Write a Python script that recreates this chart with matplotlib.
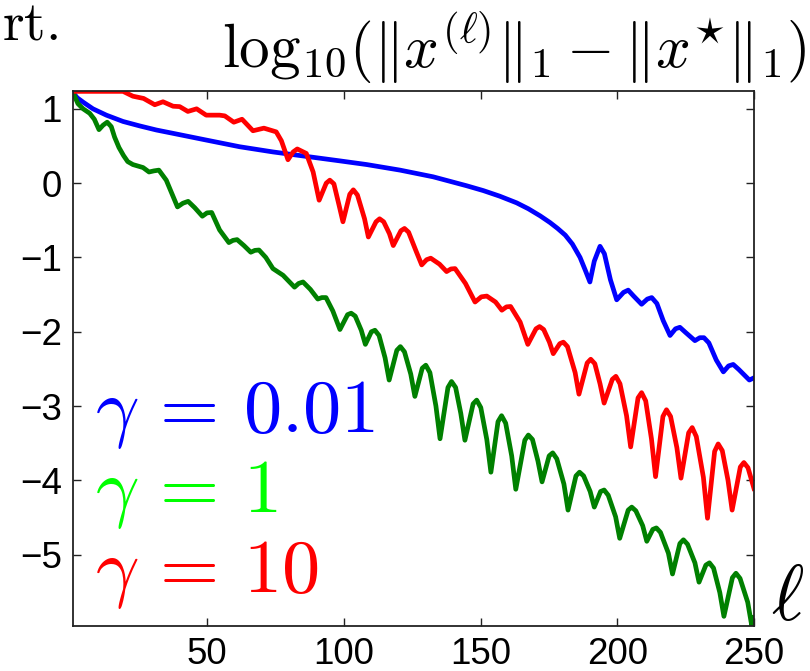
import matplotlib
matplotlib.use("Agg")
import matplotlib.pyplot as plt

plt.rcParams['mathtext.fontset'] = 'cm'
plt.rcParams['font.family'] = ['Liberation Sans', 'DejaVu Sans']

# ---- data ----
blue_x = [1, 2.5, 4.7, 8.3, 13.2, 19.3, 25.4, 31.5, 37.6, 49.7, 61.9, 74.1, 86.3, 98.5, 108.4,
          120.6, 132.7, 144.9, 151, 157, 163.2, 167.5, 171.8, 175.4, 178.2, 181.0, 183.6,
          186.4, 188.4, 190.0, 191.6, 193.7, 195.3, 197.5, 199.8, 202.3, 204.0, 206, 208.9, 211,
          212.6, 214.5, 216.8, 219.3, 221.3, 222.9, 225, 228.4, 230.2, 231.7, 233.5,
          236.2, 238.8, 240.7, 242.4, 244.5, 248.3, 250]
blue_y = [1.22, 1.15, 1.09, 1.0, 0.915, 0.83, 0.77, 0.715, 0.67, 0.58, 0.49, 0.42, 0.36, 0.30, 0.25,
          0.175, 0.085, -0.035, -0.10, -0.175, -0.265, -0.345, -0.44, -0.53, -0.61, -0.70, -0.82,
          -1.0, -1.18, -1.33, -1.05, -0.85, -0.95, -1.30, -1.57, -1.47, -1.44, -1.52, -1.63, -1.56,
          -1.54, -1.62, -1.85, -2.05, -1.96, -1.94, -2.01, -2.12, -2.08, -2.08, -2.15,
          -2.38, -2.54, -2.46, -2.44, -2.51, -2.65, -2.62]

green_x = [1, 2.8, 4.7, 7.1, 8.8, 10.5, 12.0, 13.5, 15.0, 16.2, 17.8, 19.5, 21.0, 22.9, 26.6, 28.8,
           30.6, 32.4, 35.1, 37.6, 39.2, 41.2, 43.1, 45.5, 48.3, 50.0, 51.7, 54.6, 58.0, 59.5,
           61.0, 63.5, 66.0, 67.5, 69.0, 71.5, 74.1, 77.8, 82.0, 83.5, 85.1, 87.8,
           90.5, 92.0, 93.5, 96.0, 98.6,
           101.4, 102.7, 104.2, 106.4, 107.9,
           110.1, 111.4, 112.9, 115.1, 116.6,
           119.4, 120.7, 122.2, 124.5, 126.0,
           128.7, 130.0, 131.5, 133.7, 135.2,
           138.1, 139.4, 140.9, 142.8, 144.3,
           147.3, 148.6, 150.1, 152.3, 153.8,
           156.4, 157.7, 159.2, 161.4, 162.9,
           166.2, 167.5, 169.0, 171.0, 172.5,
           175.1, 176.4, 177.9, 180.5, 182.0,
           184.9, 186.2, 187.7, 190.1, 191.6,
           193.9, 195.2, 196.7, 199.4, 200.9,
           204.0, 205.3, 206.8, 209.3, 210.8,
           213.0, 214.3, 215.8, 218.7, 220.2,
           222.9, 224.2, 225.7, 228.4, 229.9,
           232.4, 233.7, 235.2, 237.5, 239.0,
           242.1, 243.4, 244.9, 247.7, 249.2, 250]
green_y = [1.22, 1.07, 1.00, 0.94, 0.86, 0.72, 0.78, 0.82, 0.76, 0.62, 0.48, 0.37, 0.29, 0.25, 0.21, 0.15,
           0.165, 0.175, 0.04, -0.18, -0.32, -0.27, -0.245, -0.33, -0.445, -0.40, -0.395, -0.63, -0.80, -0.77,
           -0.76, -0.84, -0.93, -0.905, -0.90, -1.00, -1.15, -1.24, -1.40, -1.35, -1.33, -1.43,
           -1.56, -1.54, -1.54, -1.72, -1.97,
           -1.77, -1.75, -1.79, -1.98, -2.17,
           -2.00, -1.98, -2.05, -2.35, -2.65,
           -2.25, -2.20, -2.27, -2.57, -2.87,
           -2.49, -2.45, -2.55, -3.00, -3.44,
           -2.75, -2.67, -2.75, -3.10, -3.46,
           -2.97, -2.92, -3.02, -3.45, -3.89,
           -3.21, -3.13, -3.23, -3.67, -4.12,
           -3.46, -3.39, -3.45, -3.74, -4.02,
           -3.67, -3.63, -3.71, -4.05, -4.40,
           -3.94, -3.89, -3.94, -4.15, -4.36,
           -4.15, -4.13, -4.20, -4.49, -4.78,
           -4.40, -4.36, -4.41, -4.61, -4.82,
           -4.66, -4.64, -4.70, -4.98, -5.26,
           -4.85, -4.80, -4.86, -5.11, -5.37,
           -5.14, -5.11, -5.18, -5.51, -5.83,
           -5.31, -5.25, -5.32, -5.64, -5.96, -5.85]

red_x = [1, 19.3, 22.9, 26.8, 30.9, 33.9, 37.6, 40, 43, 46.2, 49.7, 54.6, 56.5, 59.8, 62.8,
         66.8, 70.8, 75.3, 77.2, 79.6, 81.5, 83.0, 86.3, 88.8, 91.0,
         93.6, 94.9, 96.4, 98.3, 99.7,
         102.2, 103.5, 105.0, 107.6, 109.0,
         111.8, 113.1, 114.6, 116.7, 118.1,
         120.9, 122.2, 123.7, 126.5, 128.5,
         130.3, 131.8, 135.0, 137.6, 139.2, 140.7, 144.5, 148.0, 150.3, 152.3, 155.5, 157.8,
         159.5, 161.0, 164.5, 167.3,
         170.3, 171.6, 173.1, 175.2, 176.6,
         179.0, 180.3, 181.8, 184.6, 186.0,
         189.0, 190.3, 191.8, 193.7, 195.2,
         198.2, 199.5, 201.0, 203.4, 204.9,
         207.6, 208.9, 210.4, 212.5, 214.0,
         216.7, 218.0, 219.5, 221.8, 223.3,
         226.1, 227.4, 228.9, 231.5, 233.0,
         235.6, 236.9, 238.4, 240.5, 242.0,
         245.0, 246.3, 247.8, 250]
red_y = [1.235, 1.235, 1.17, 1.14, 1.055, 1.095, 1.035, 1.03, 0.965, 1.0, 0.915, 0.915, 0.905, 0.82, 0.86,
         0.705, 0.74, 0.69, 0.57, 0.315, 0.42, 0.46, 0.40, 0.15, -0.23,
         0.0, 0.04, -0.01, -0.30, -0.52,
         -0.15, -0.09, -0.16, -0.48, -0.725,
         -0.52, -0.48, -0.52, -0.68, -0.84,
         -0.64, -0.61, -0.66, -0.92, -1.10,
         -1.03, -1.01, -1.09, -1.19, -1.155, -1.15, -1.35, -1.60, -1.53, -1.52, -1.60, -1.71,
         -1.665, -1.66, -1.87, -2.17,
         -1.96, -1.93, -1.97, -2.14, -2.295,
         -2.16, -2.14, -2.20, -2.55, -2.84,
         -2.42, -2.37, -2.43, -2.70, -2.96,
         -2.64, -2.60, -2.70, -3.13, -3.55,
         -2.89, -2.82, -2.93, -3.44, -3.95,
         -3.14, -3.05, -3.14, -3.56, -3.97,
         -3.36, -3.29, -3.41, -3.96, -4.51,
         -3.61, -3.51, -3.60, -4.00, -4.40,
         -3.82, -3.76, -3.83, -4.11]

x_ticks = [50, 100, 150, 200, 250]
y_ticks = [1, 0, -1, -2, -3, -4, -5]
legend_labels = [r'$\gamma\,=\,0.01$', r'$\gamma\,=\,1$', r'$\gamma\,=\,10$']
legend_colors = ['#0000ff', '#00ff00', '#ff0000']

W, H = 810, 671
fig = plt.figure(figsize=(W / 100, H / 100), dpi=100)
ax = fig.add_axes([73 / W, 1 - 626 / H, (754 - 73) / W, (626 - 91) / H])

lw = 3.4
ax.plot(blue_x, blue_y, color='#0000ff', lw=lw, solid_joinstyle='round')
ax.plot(green_x, green_y, color='#008000', lw=lw, solid_joinstyle='round')
ax.plot(red_x, red_y, color='#ff0000', lw=lw, solid_joinstyle='round')

ax.set_xlim(1, 250)
ax.set_ylim(-5.96, 1.24)
ax.set_xticks(x_ticks)
ax.set_yticks(y_ticks)
ax.tick_params(direction='in', length=6, width=1.0, colors='#222222',
               labelcolor='black', labelsize=26.5, top=True, right=True, pad=8)
for s in ax.spines.values():
    s.set_linewidth(1.3)
    s.set_color('#222222')

def px(x, y):
    return x / W, 1 - y / H

# legend as colored math text
for i, (lab, c) in enumerate(zip(legend_labels, legend_colors)):
    fx, fy = px(95, 432 + 80 * i)
    fig.text(fx, fy, lab, color=c, fontsize=55, va='baseline', ha='left')

# title
fx, fy = px(806, 68)
fig.text(fx, fy, r'$\mathrm{log}_{10}(\|x^{(\ell)}\|_1-\|x^{\star}\|_1)$',
         fontsize=44, ha='right', va='baseline')

# partial text top-left
fx, fy = px(2, 40)
fig.text(fx, fy, r'$\mathrm{rt.}$', fontsize=40, ha='left', va='baseline')

# x label
fx, fy = px(771, 620)
fig.text(fx, fy, r'$\ell$', fontsize=56, ha='left', va='baseline')

fig.savefig('out.png', dpi=100)
